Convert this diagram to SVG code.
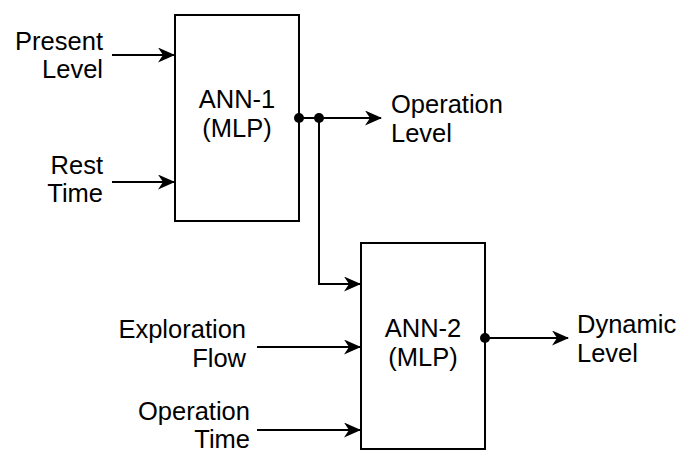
<svg xmlns="http://www.w3.org/2000/svg" width="680" height="450" viewBox="0 0 680 450">
<style>
.t{font-family:"Liberation Sans",Arial,sans-serif;font-size:25.5px;fill:#000}
.r{text-anchor:end}
.m{text-anchor:middle}
.box{fill:#fff;stroke:#000;stroke-width:2}
.ln{fill:none;stroke:#000;stroke-width:2}
</style>
<defs>
<marker id="ah" viewBox="0 0 17 15" refX="16" refY="7.5" markerWidth="17" markerHeight="15" markerUnits="userSpaceOnUse" orient="auto">
<path d="M0,0 L17,7.5 L0,15 L5,7.5 Z" fill="#000"/>
</marker>
</defs>
<rect width="680" height="450" fill="#fff"/>
<g id="ann1">
<rect class="box" x="175" y="15" width="124" height="206"/>
<text class="t m" x="237" y="108">ANN-1</text>
<text class="t m" x="237" y="137">(MLP)</text>
</g>
<g id="ann2">
<rect class="box" x="361" y="243" width="124" height="206"/>
<text class="t m" x="423" y="337">ANN-2</text>
<text class="t m" x="423" y="366">(MLP)</text>
</g>
<g id="labels">
<text class="t r" x="103" y="50">Present</text>
<text class="t r" x="103" y="78">Level</text>
<text class="t r" x="103" y="174">Rest</text>
<text class="t r" x="103" y="202">Time</text>
<text class="t" x="391" y="113">Operation</text>
<text class="t" x="391" y="142">Level</text>
<text class="t r" x="246" y="338">Exploration</text>
<text class="t r" x="246" y="367">Flow</text>
<text class="t r" x="250" y="420">Operation</text>
<text class="t r" x="250" y="448">Time</text>
<text class="t" x="577" y="333">Dynamic</text>
<text class="t" x="577" y="362">Level</text>
</g>
<g id="connectors">
<line class="ln" x1="112" y1="55" x2="174" y2="55" marker-end="url(#ah)"/>
<line class="ln" x1="112" y1="182" x2="174" y2="182" marker-end="url(#ah)"/>
<line class="ln" x1="299" y1="118" x2="381" y2="118" marker-end="url(#ah)"/>
<polyline class="ln" points="319,118 319,284 360,284" marker-end="url(#ah)"/>
<line class="ln" x1="257" y1="347" x2="360" y2="347" marker-end="url(#ah)"/>
<line class="ln" x1="257" y1="430" x2="360" y2="430" marker-end="url(#ah)"/>
<line class="ln" x1="485" y1="338" x2="568" y2="338" marker-end="url(#ah)"/>
<circle cx="299" cy="118" r="5" fill="#000"/>
<circle cx="319" cy="118" r="5" fill="#000"/>
<circle cx="485" cy="338" r="5" fill="#000"/>
</g>
</svg>
